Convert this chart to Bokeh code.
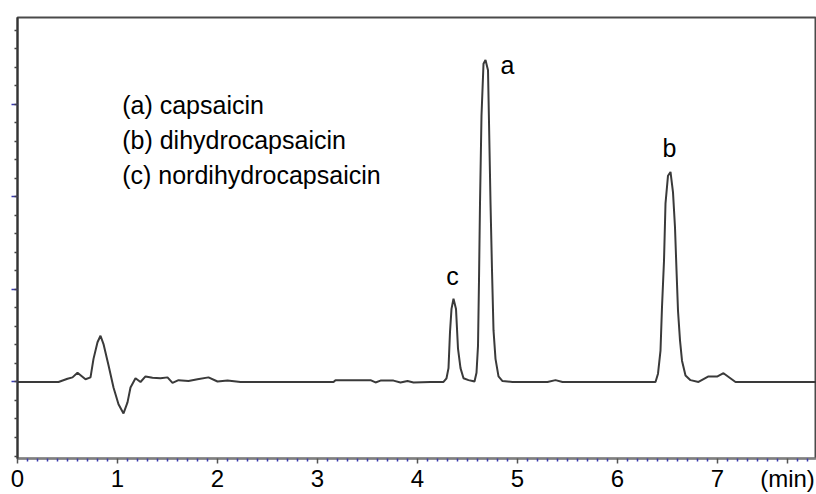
from bokeh.plotting import figure
from bokeh.models import FixedTicker, Range1d
from bokeh.core.properties import value
from bokeh.embed import file_html
from bokeh.resources import INLINE

# ---- data (time in min, signal in arbitrary units) ----
time_min = [0.00, 0.41, 0.50, 0.55, 0.60, 0.68, 0.73, 0.76, 0.80, 0.83, 0.86, 0.91,
            0.96, 1.01, 1.06, 1.10, 1.13, 1.18, 1.23, 1.28, 1.35, 1.43, 1.50, 1.55,
            1.61, 1.71, 1.80, 1.91, 2.00, 2.10, 2.23, 3.16, 3.18, 3.53, 3.58, 3.63,
            3.76, 3.83, 3.90, 3.96, 4.13, 4.26, 4.29, 4.31, 4.325, 4.34, 4.36, 4.385,
            4.405, 4.43, 4.46, 4.51, 4.55, 4.57, 4.59, 4.605, 4.615, 4.625, 4.64, 4.66,
            4.68, 4.705, 4.715, 4.73, 4.745, 4.76, 4.78, 4.81, 4.85, 4.95, 5.30, 5.38,
            5.45, 6.38, 6.405, 6.43, 6.445, 6.465, 6.48, 6.505, 6.53, 6.555, 6.575, 6.59,
            6.605, 6.625, 6.645, 6.68, 6.73, 6.81, 6.91, 7.00, 7.06, 7.18, 7.99]
signal = [0.00, 0.00, 0.035, 0.05, 0.10, 0.03, 0.05, 0.25, 0.43, 0.50, 0.41, 0.18,
          -0.06, -0.24, -0.34, -0.22, -0.06, 0.04, 0.00, 0.06, 0.045, 0.04, 0.05, -0.01,
          0.02, 0.01, 0.03, 0.05, 0.005, 0.015, 0.00, 0.00, 0.02, 0.02, -0.005, 0.015,
          0.015, -0.005, 0.01, -0.005, 0.00, 0.00, 0.04, 0.15, 0.54, 0.79, 0.90, 0.79,
          0.36, 0.15, 0.04, 0.02, 0.01, 0.005, 0.10, 0.39, 1.10, 1.93, 2.88, 3.44,
          3.48, 3.37, 2.81, 1.94, 1.21, 0.56, 0.25, 0.06, 0.01, 0.00, 0.00, 0.02,
          0.00, 0.00, 0.09, 0.34, 0.81, 1.31, 1.93, 2.23, 2.27, 2.05, 1.67, 1.21,
          0.77, 0.45, 0.23, 0.07, 0.02, 0.00, 0.06, 0.06, 0.095, 0.00, 0.00]

peak_names = ["a", "b", "c"]
peak_times = [4.68, 6.53, 4.36]
legend_lines = ["(a) capsaicin", "(b) dihydrocapsaicin", "(c) nordihydrocapsaicin"]
x_tick_values = [0, 1, 2, 3, 4, 5, 6, 7]
x_unit_label = "(min)"

# ---- figure ----
Y_PX = 92.5   # pixels per signal unit
X_PX = 100.0  # pixels per minute
y_lo, y_hi = -0.827, 3.94

p = figure(width=816, height=494,
           x_range=Range1d(0, 7.99), y_range=Range1d(y_lo, y_hi),
           output_backend="svg", toolbar_location=None,
           min_border_left=17, min_border_right=0, min_border_top=17, min_border_bottom=36,
           background_fill_color="white", border_fill_color="white")
p.xgrid.visible = False
p.ygrid.visible = False
p.outline_line_color = "#4a4a4a"
p.outline_line_width = 2

FONT = "Liberation Sans"

# x axis; the unit label sits in the tick-label row, on the 7.7 min position
unit_pos = 7.7
xa = p.xaxis[0]
minor_x = [i / 10 for i in range(0, 80) if i % 10 != 0 and i != 77]
xa.ticker = FixedTicker(ticks=x_tick_values + [unit_pos], minor_ticks=minor_x)
xa.major_label_overrides = {unit_pos: x_unit_label}
xa.major_tick_line_color = "#555555"
xa.major_tick_line_width = 1.5
xa.major_tick_out = 5
xa.major_tick_in = 0
xa.axis_line_color = "#808080"
xa.axis_line_width = 2
xa.minor_tick_line_color = "#3a3ab0"
xa.minor_tick_line_width = 1.5
xa.minor_tick_out = 3
xa.minor_tick_in = 0
xa.major_label_text_font = FONT
xa.major_label_text_font_size = "24px"
xa.major_label_text_color = "black"
xa.major_label_standoff = 1

# y axis (ticks only, no labels)
ya = p.yaxis[0]
minor_y = [round(-0.8 + 0.2 * i, 2) for i in range(0, 24)]
ya.ticker = FixedTicker(ticks=[0, 1, 2, 3], minor_ticks=minor_y)
ya.major_label_overrides = {0: "", 1: "", 2: "", 3: ""}
ya.axis_line_color = "#333333"
ya.axis_line_width = 2
ya.major_tick_line_color = "#3a3ab0"
ya.major_tick_line_width = 1.5
ya.major_tick_out = 6
ya.major_tick_in = 0
ya.minor_tick_line_color = "#444444"
ya.minor_tick_line_width = 1.5
ya.minor_tick_out = 3
ya.minor_tick_in = 0
ya.major_label_standoff = 0

# trace
p.line(time_min, signal, line_color="#3a3a3a", line_width=2)

# peak labels, placed relative to each peak apex
def apex(t0):
    return max(s for t, s in zip(time_min, signal) if abs(t - t0) < 0.06)

offsets_px = {"a": (22, -5), "b": (-1, 24), "c": (-1, 23)}
lx, ly = [], []
for name, t0 in zip(peak_names, peak_times):
    dx, dy = offsets_px[name]
    lx.append(t0 + dx / X_PX)
    ly.append(apex(t0) + dy / Y_PX)
p.text(x=lx, y=ly, text=peak_names, text_font=value(FONT), text_font_size="25px",
       text_color="black", text_align="center", text_baseline="alphabetic")

# legend text block
leg_x = [1.047] * len(legend_lines)
leg_y = [2.989 - i * 35 / Y_PX for i in range(len(legend_lines))]
p.text(x=leg_x, y=leg_y, text=legend_lines, text_font=value(FONT), text_font_size="25px",
       text_color="black", text_align="left", text_baseline="alphabetic")

open("out.html", "w").write(file_html(p, INLINE))
